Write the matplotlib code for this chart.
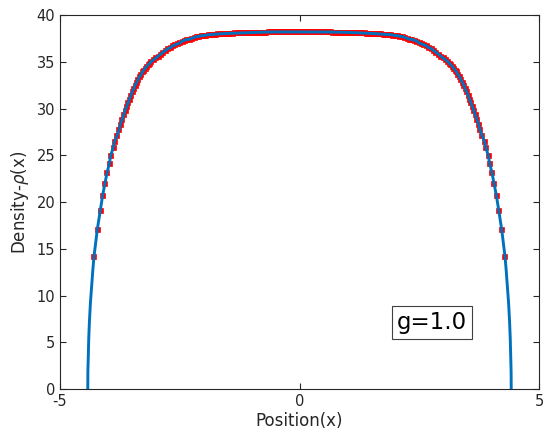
import matplotlib
matplotlib.use("Agg")
import matplotlib.pyplot as plt
import matplotlib.transforms as mtransforms

mark_x = [-4.29, -4.22, -4.16, -4.11, -4.06, -4.02, -3.97, -3.94, -3.89, -3.86,
          -3.81, -3.77, -3.74, -3.705, -3.67, -3.64, -3.61, -3.58, -3.55, -3.52,
          -3.49, -3.46, -3.43, -3.40, -3.37, -3.34, -3.31, -3.28, -3.25, -3.22,
          -3.19, -3.16, -3.13, -3.10, -3.05, -3.00, -2.95, -2.90, -2.85, -2.80,
          -2.75, -2.70, -2.65, -2.60, -2.55, -2.50, -2.45, -2.40, -2.35, -2.30,
          -2.25, -2.20, -2.15, -2.10, -2.05, -2.00, -1.95, -1.90, -1.85, -1.80,
          -1.75, -1.70, -1.65, -1.60, -1.55, -1.50, -1.45, -1.40, -1.35, -1.30,
          -1.25, -1.20, -1.15, -1.10, -1.05, -1.00, -0.95, -0.90, -0.85, -0.80,
          -0.75, -0.70, -0.65, -0.60, -0.55, -0.50, -0.45, -0.40, -0.35, -0.30,
          -0.25, -0.20, -0.15, -0.10, -0.05, 0.00, 0.05, 0.10, 0.15, 0.20,
          0.25, 0.30, 0.35, 0.40, 0.45, 0.50, 0.55, 0.60, 0.65, 0.70,
          0.75, 0.80, 0.85, 0.90, 0.95, 1.00, 1.05, 1.10, 1.15, 1.20,
          1.25, 1.30, 1.35, 1.40, 1.45, 1.50, 1.55, 1.60, 1.65, 1.70,
          1.75, 1.80, 1.85, 1.90, 1.95, 2.00, 2.05, 2.10, 2.15, 2.20,
          2.25, 2.30, 2.35, 2.40, 2.45, 2.50, 2.55, 2.60, 2.65, 2.70,
          2.75, 2.80, 2.85, 2.90, 2.95, 3.00, 3.05, 3.10, 3.13, 3.16,
          3.19, 3.22, 3.25, 3.28, 3.31, 3.34, 3.37, 3.40, 3.43, 3.46,
          3.49, 3.52, 3.55, 3.58, 3.61, 3.64, 3.67, 3.705, 3.74, 3.77,
          3.81, 3.86, 3.89, 3.94, 3.97, 4.02, 4.06, 4.11, 4.16, 4.22,
          4.29]
mark_y = [14.2, 17.1, 19.1, 20.7, 22.0, 23.1, 24.1, 25.0, 25.8, 26.5,
          27.1, 27.7, 28.3, 28.8, 29.3, 29.8, 30.2, 30.6, 31.0, 31.4,
          31.8, 32.1, 32.5, 32.8, 33.1, 33.4, 33.6, 33.9, 34.1, 34.3,
          34.5, 34.7, 34.8, 35.0, 35.2, 35.4, 35.6, 35.8, 36.0, 36.2,
          36.4, 36.5, 36.7, 36.8, 36.9, 37.0, 37.2, 37.3, 37.4, 37.4,
          37.5, 37.6, 37.7, 37.7, 37.8, 37.8, 37.85, 37.9, 37.9, 37.93,
          37.95, 37.97, 37.99, 38.0, 38.02, 38.03, 38.05, 38.06, 38.07, 38.08,
          38.09, 38.1, 38.11, 38.12, 38.13, 38.14, 38.15, 38.15, 38.16, 38.16,
          38.17, 38.17, 38.18, 38.18, 38.18, 38.19, 38.19, 38.19, 38.2, 38.2,
          38.2, 38.2, 38.2, 38.2, 38.2, 38.2, 38.2, 38.2, 38.2, 38.2,
          38.2, 38.2, 38.2, 38.19, 38.19, 38.19, 38.18, 38.18, 38.18, 38.17,
          38.17, 38.16, 38.16, 38.15, 38.15, 38.14, 38.13, 38.12, 38.11, 38.1,
          38.09, 38.08, 38.07, 38.06, 38.05, 38.03, 38.02, 38.0, 37.99, 37.97,
          37.95, 37.93, 37.9, 37.9, 37.85, 37.8, 37.8, 37.7, 37.7, 37.6,
          37.5, 37.4, 37.4, 37.3, 37.2, 37.0, 36.9, 36.8, 36.7, 36.5,
          36.4, 36.2, 36.0, 35.8, 35.6, 35.4, 35.2, 35.0, 34.8, 34.7,
          34.5, 34.3, 34.1, 33.9, 33.6, 33.4, 33.1, 32.8, 32.5, 32.1,
          31.8, 31.4, 31.0, 30.6, 30.2, 29.8, 29.3, 28.8, 28.3, 27.7,
          27.1, 26.5, 25.8, 25.0, 24.1, 23.1, 22.0, 20.7, 19.1, 17.1,
          14.2]

# steep ends of the blue density curve, below the first/last marker
edge_left_x = [-4.42, -4.418, -4.41, -4.40, -4.385, -4.365, -4.34, -4.315]
edge_left_rho = [0.0, 1.8, 3.6, 5.4, 7.3, 9.2, 11.0, 12.7]
edge_right_x = [4.315, 4.34, 4.365, 4.385, 4.40, 4.41, 4.418, 4.42]
edge_right_rho = [12.7, 11.0, 9.2, 7.3, 5.4, 3.6, 1.8, 0.0]

g_label = "g=1.0"

line_x = edge_left_x + mark_x + edge_right_x
line_rho = edge_left_rho + mark_y + edge_right_rho

plt.rcParams["axes.unicode_minus"] = False
dark = "#262626"

fig = plt.figure(figsize=(5.54, 4.4), dpi=100)
ax = fig.add_axes([60 / 554, 51 / 440, 479 / 554, 374 / 440])

# agg pixel-snaps marker centres; nudge them back onto the curve
nudge = mtransforms.offset_copy(ax.transData, fig=fig, x=-0.6, y=0.6,
                                units="dots")
ax.plot(mark_x, mark_y, "s", color="red", markersize=3.6,
        markeredgewidth=0.5, zorder=2, transform=nudge)
ax.plot(line_x, line_rho, "-", color=(0, 0.447, 0.741), linewidth=2.1,
        zorder=3)

ax.set_xlim(-5, 5)
ax.set_ylim(0, 40)
ax.set_xticks([-5, 0, 5])
ax.set_yticks(range(0, 41, 5))
ax.tick_params(direction="in", top=True, right=True, length=4,
               width=0.8, colors=dark, labelsize=10.5, labelcolor=dark)
for s in ax.spines.values():
    s.set_color(dark)
    s.set_linewidth(0.8)

ax.set_xlabel("Position(x)", fontsize=12, color=dark, labelpad=2)
ax.set_ylabel("Density-$\\rho$(x)", fontsize=12, color=dark, labelpad=4)

ax.text(0.777, 0.179, g_label, transform=ax.transAxes, fontsize=16.5,
        ha="center", va="center", color="black",
        bbox=dict(boxstyle="square,pad=0.22", facecolor="white",
                  edgecolor="#404040", linewidth=0.8))

fig.savefig("out.png", dpi=100)
